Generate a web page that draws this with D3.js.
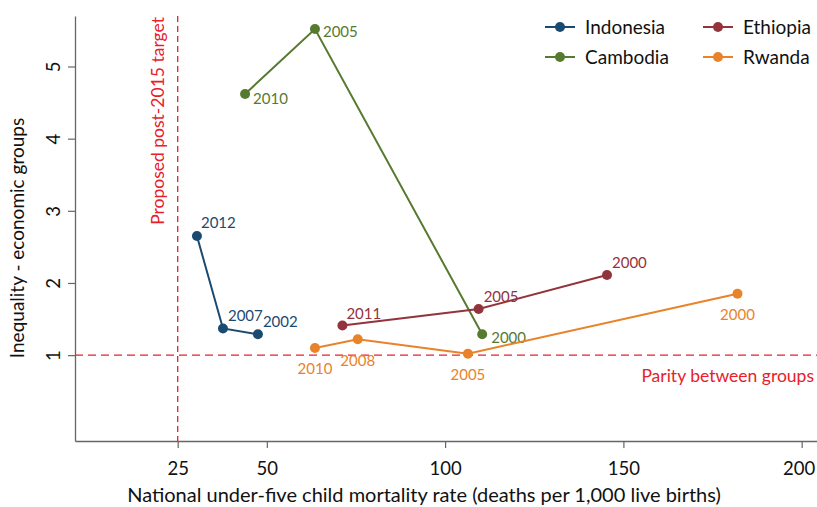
<!DOCTYPE html>
<html>
<head>
<meta charset="utf-8">
<script src="https://cdn.jsdelivr.net/npm/d3@7"></script>
<style>
  body { margin: 0; background: #fff; }
  svg { font-family: Lato, "Open Sans", sans-serif; }
</style>
</head>
<body>
<svg id="chart" width="817" height="507"></svg>
<script>
// data
const countries = ["Indonesia", "Cambodia", "Ethiopia", "Rwanda"];
const colors = ["#1b4a71", "#567a30", "#93333b", "#e8832a"];
const years = [
  ["2012", "2007", "2002"],
  ["2010", "2005", "2000"],
  ["2011", "2005", "2000"],
  ["2010", "2008", "2005", "2000"]
];
const mortality = [
  [30.4, 37.7, 47.5],
  [43.9, 63.5, 110.4],
  [71.2, 109.4, 145.4],
  [63.5, 75.5, 106.4, 182.0]
];
const inequality = [
  [2.65, 1.37, 1.29],
  [4.62, 5.52, 1.29],
  [1.41, 1.64, 2.11],
  [1.10, 1.22, 1.02, 1.85]
];
// label offsets [dx, dy, anchor]
const labelPos = [
  [[4, -8, "start"], [5, -7, "start"], [5, -7, "start"]],
  [[8, 10, "start"], [8, 8, "start"], [9, 9, "start"]],
  [[4, -7, "start"], [5, -7, "start"], [5, -7, "start"]],
  [[0, 26, "middle"], [0, 27, "middle"], [0, 26, "middle"], [0, 26, "middle"]]
];
const xTicks = [25, 50, 100, 150, 200];
const yTicks = [1, 2, 3, 4, 5];
const targetX = 25, parityY = 1;

(function () {
const svg = d3.select("#chart");
const mLeft = 75, mRight = 817, mTop = 16, mBottom = 441;
const x = d3.scaleLinear().domain([-3.8, 204.3]).range([mLeft, mRight]);
const y = d3.scaleLinear().domain([-0.19, 5.70]).range([mBottom, mTop]);
const red = "#e8202a";

// axes
const xAxis = svg.append("g").attr("transform", `translate(0,${mBottom})`)
  .call(d3.axisBottom(x).tickValues(xTicks).tickFormat(d3.format("d"))
    .tickSize(7).tickPadding(14).tickSizeOuter(0));
const yAxis = svg.append("g").attr("transform", `translate(${mLeft},0)`)
  .call(d3.axisLeft(y).tickValues(yTicks).tickFormat(d3.format("d"))
    .tickSize(7).tickPadding(6).tickSizeOuter(0));
[xAxis, yAxis].forEach(a => {
  a.attr("font-family", null).attr("font-size", null);
  a.select(".domain").attr("stroke", "#666").attr("stroke-width", 1.3);
  a.selectAll(".tick line").attr("stroke", "#666").attr("stroke-width", 1.2);
  a.selectAll("text").attr("fill", "#111").style("font-size", "18.5px");
});
// keep the last x label inside the window
xAxis.selectAll(".tick text").filter(d => d === 200).attr("dx", -3);
yAxis.selectAll(".tick text")
  .attr("text-anchor", "middle").attr("x", null).attr("dy", null)
  .attr("transform", "translate(-22,0) rotate(-90)")
  .attr("dominant-baseline", "central");

// reference lines
svg.append("line").attr("x1", x(targetX)).attr("x2", x(targetX)).attr("y1", mTop).attr("y2", mBottom)
  .attr("stroke", red).attr("stroke-width", 1.3).attr("stroke-dasharray", "6,4");
svg.append("line").attr("x1", mLeft).attr("x2", mRight).attr("y1", y(parityY)).attr("y2", y(parityY))
  .attr("stroke", red).attr("stroke-width", 1.3).attr("stroke-dasharray", "8,5");
svg.append("text").attr("transform", `translate(${x(targetX) - 20},${mTop + 1}) rotate(-90)`)
  .attr("text-anchor", "end").attr("dy", "0.35em").attr("fill", red).style("font-size", "17.5px")
  .text("Proposed post-2015 target");
svg.append("text").attr("x", 814).attr("y", y(parityY) + 27).attr("text-anchor", "end")
  .attr("fill", red).style("font-size", "17.5px").text("Parity between groups");

// series
countries.forEach((c, i) => {
  const pts = mortality[i].map((m, j) => ({ x: m, y: inequality[i][j], year: years[i][j], pos: labelPos[i][j] }));
  const g = svg.append("g");
  g.append("path").datum(pts)
    .attr("d", d3.line().x(d => x(d.x)).y(d => y(d.y)))
    .attr("fill", "none").attr("stroke", colors[i]).attr("stroke-width", 2);
  g.selectAll("circle").data(pts).enter().append("circle")
    .attr("cx", d => x(d.x)).attr("cy", d => y(d.y)).attr("r", 5).attr("fill", colors[i]);
  g.selectAll("text").data(pts).enter().append("text")
    .attr("x", d => x(d.x) + d.pos[0]).attr("y", d => y(d.y) + d.pos[1])
    .attr("text-anchor", d => d.pos[2]).attr("fill", colors[i]).style("font-size", "15px")
    .text(d => d.year);
});

// legend: two columns, two rows
const legendX = [545, 703], legendY = [27, 57];
countries.forEach((c, i) => {
  const gx = legendX[i < 2 ? 0 : 1], gy = legendY[i % 2];
  const g = svg.append("g");
  g.append("line").attr("x1", gx).attr("x2", gx + 30).attr("y1", gy).attr("y2", gy)
    .attr("stroke", colors[i]).attr("stroke-width", 2);
  g.append("circle").attr("cx", gx + 15).attr("cy", gy).attr("r", 5).attr("fill", colors[i]);
  g.append("text").attr("x", gx + 40).attr("y", gy).attr("dy", "0.35em")
    .attr("fill", "#111").style("font-size", "19px").text(c);
});

// axis titles
svg.append("text").attr("x", 424).attr("y", 502).attr("text-anchor", "middle")
  .attr("fill", "#111").style("font-size", "20px")
  .text("National under-five child mortality rate (deaths per 1,000 live births)");
svg.append("text").attr("transform", "translate(24,238) rotate(-90)").attr("text-anchor", "middle")
  .attr("fill", "#111").style("font-size", "19px").text("Inequality - economic groups");
})();
</script>
</body>
</html>
